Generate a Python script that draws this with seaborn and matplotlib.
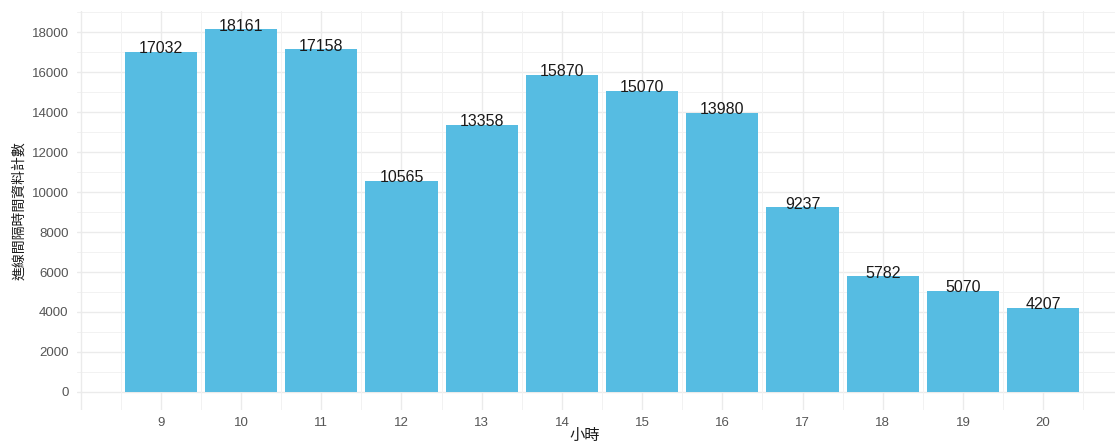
import matplotlib
matplotlib.use("Agg")
import matplotlib.pyplot as plt
import seaborn as sns
import numpy as np
import pandas as pd

hours = [9, 10, 11, 12, 13, 14, 15, 16, 17, 18, 19, 20]
counts = [17032, 18161, 17158, 10565, 13358, 15870, 15070, 13980, 9237, 5782, 5070, 4207]
y_ticks = [0, 2000, 4000, 6000, 8000, 10000, 12000, 14000, 16000, 18000]
x_label = "小時"
y_label = "進線間隔時間資料計數"

sns.set_theme(style="white")
plt.rcParams['font.family'] = ['Liberation Sans', 'Noto Sans CJK TC', 'DejaVu Sans']

df = pd.DataFrame({"hour": hours, "count": counts})

fig = plt.figure(figsize=(11.15, 4.44), dpi=100)
ax = fig.add_axes([77 / 1115, 1 - 410 / 444, (1127 - 77) / 1115, 399 / 444])

grid_major = "#EBEBEB"
grid_minor = "#F2F2F2"
xmin, xmax = 7.955, 21.045
ymax = max(counts) * 1.05
ymin = -max(counts) * 0.05
for yv in np.arange(1000, 20000, 2000):
    ax.axhline(yv, color=grid_minor, lw=0.7, zorder=0)
for yv in y_ticks:
    ax.axhline(yv, color=grid_major, lw=1.0, zorder=0)
for xv in np.arange(8.5, 21.0, 1.0):
    ax.axvline(xv, color=grid_minor, lw=0.7, zorder=0)
for xv in range(8, 22):
    ax.axvline(xv, color=grid_major, lw=1.0, zorder=0)

sns.barplot(data=df, x="hour", y="count", native_scale=True, width=0.9,
            color="#56BCE2", saturation=1, linewidth=0, edgecolor="none",
            ax=ax, zorder=2)

for h, c in zip(hours, counts):
    ax.annotate(str(c), (h, c), xytext=(0, -1), textcoords="offset points",
                ha="center", va="baseline", fontsize=11.5, color="#1A1A1A", zorder=3)

ax.set_xlim(xmin, xmax)
ax.set_ylim(ymin, ymax)
ax.set_xticks(hours)
ax.set_xticklabels([str(h) for h in hours])
ax.set_yticks(y_ticks)
ax.tick_params(axis="both", length=0, labelsize=9.5, labelcolor="#555555")
ax.tick_params(axis="x", pad=5)
ax.tick_params(axis="y", pad=6)
ax.set_xlabel(x_label, fontsize=11, color="#1A1A1A")
ax.set_ylabel(y_label, fontsize=10, color="#1A1A1A", labelpad=4)
ax.xaxis.set_label_coords((585 - 77) / 1050, (410 - 436) / 399)
ax.xaxis.label.set_verticalalignment("center")
for s in ax.spines.values():
    s.set_visible(False)

fig.savefig("out.png", dpi=100)
